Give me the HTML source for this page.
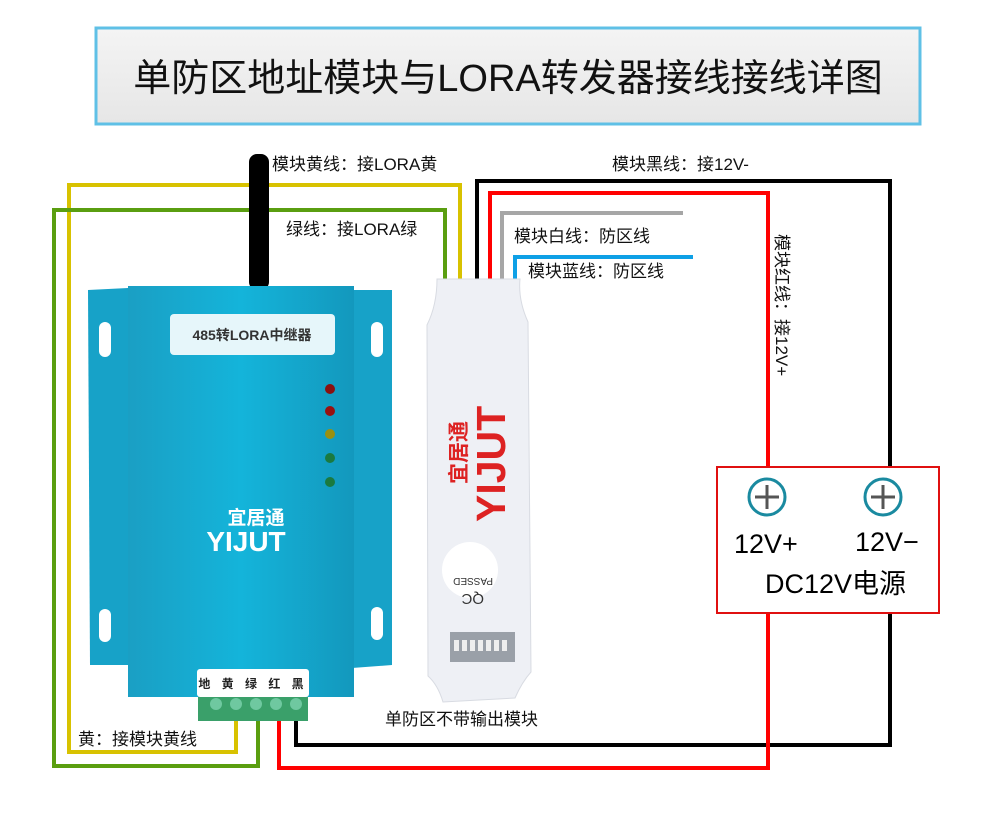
<!DOCTYPE html>
<html><head><meta charset="utf-8"><style>
body{margin:0;background:#fff;}
svg text{font-family:"Liberation Sans","Noto Sans CJK SC",sans-serif;}
</style></head><body>
<svg width="989" height="820" viewBox="0 0 989 820" xmlns="http://www.w3.org/2000/svg">
<defs>
<linearGradient id="tb" x1="0" y1="0" x2="0" y2="1"><stop offset="0" stop-color="#f4f4f4"/><stop offset="1" stop-color="#e6e6e6"/></linearGradient>
<linearGradient id="body" x1="0" y1="0" x2="1" y2="0"><stop offset="0" stop-color="#1a9fc4"/><stop offset="0.5" stop-color="#14b4da"/><stop offset="1" stop-color="#1398bd"/></linearGradient>
</defs>
<rect width="989" height="820" fill="#fff"/>
<rect x="96" y="28" width="824" height="96" fill="url(#tb)" stroke="#5fc0e6" stroke-width="3"/>
<text x="508" y="91" font-size="38" text-anchor="middle" fill="#111">单防区地址模块与LORA转发器接线接线详图</text>

<g fill="none" stroke-width="4">
<polyline points="69,290 69,185 460,185 460,285" stroke="#d8c200"/>
<polyline points="54,290 54,210 445,210 445,285" stroke="#5a9e10"/>
<polyline points="69,290 69,752 236,752 236,715" stroke="#d8c200"/>
<polyline points="54,290 54,766 258,766 258,718" stroke="#5a9e10"/>
<polyline points="477,285 477,181 890,181 890,745 296,745 296,718" stroke="#000"/>
<polyline points="490,285 490,193 768,193 768,468" stroke="#f00"/>
<polyline points="768,612 768,768 279,768 279,718" stroke="#f00"/>
<polyline points="502,285 502,213 683,213" stroke="#a6a6a6"/>
<polyline points="515,285 515,257 693,257" stroke="#0ea0e6"/>
</g>

<rect x="249" y="154" width="20" height="136" rx="8" fill="#000"/>
<path d="M88,290 L128,288 L128,665 L90,665 Z" fill="#17a2c8"/>
<path d="M352,290 L392,290 L392,665 L352,668 Z" fill="#17a2c8"/>
<rect x="128" y="286" width="226" height="411" fill="url(#body)"/>
<rect x="99" y="322" width="12" height="35" rx="6" fill="#fff"/>
<rect x="371" y="322" width="12" height="35" rx="6" fill="#fff"/>
<rect x="99" y="609" width="12" height="33" rx="6" fill="#fff"/>
<rect x="371" y="607" width="12" height="33" rx="6" fill="#fff"/>
<rect x="170" y="314" width="165" height="41" rx="4" fill="#e6f6fa"/>
<text x="252" y="340" font-size="14" font-weight="bold" text-anchor="middle" fill="#333">485转LORA中继器</text>
<circle cx="330" cy="389" r="5" fill="#8a1010"/>
<circle cx="330" cy="411" r="5" fill="#9a1010"/>
<circle cx="330" cy="434" r="5" fill="#9a9010"/>
<circle cx="330" cy="458" r="5" fill="#1a7a40"/>
<circle cx="330" cy="482" r="5" fill="#1a7a40"/>
<text x="256" y="524" font-size="19" font-weight="bold" text-anchor="middle" fill="#fff">宜居通</text>
<text x="246" y="551" font-size="28" font-weight="bold" text-anchor="middle" fill="#fff">YIJUT</text>
<rect x="197" y="669" width="112" height="28" rx="3" fill="#fff"/>
<text x="253" y="688" font-size="12" font-weight="bold" text-anchor="middle" fill="#222" letter-spacing="4">地 黄 绿 红 黑</text>
<rect x="198" y="697" width="110" height="24" fill="#3aa06a"/>
<g fill="#6fc8a0"><circle cx="216" cy="704" r="6"/><circle cx="236" cy="704" r="6"/><circle cx="256" cy="704" r="6"/><circle cx="276" cy="704" r="6"/><circle cx="296" cy="704" r="6"/></g>

<path d="M437,279 L520,279 Q518,300 528,322 L531,672 Q522,682 515,698 L443,702 Q438,685 428,676 L427,325 Q437,305 437,279 Z" fill="#eef0f5" stroke="#d8dbe2"/>
<text transform="translate(466,484) rotate(-90)" font-size="21" font-weight="bold" fill="#d22">宜居通</text>
<text transform="translate(505,522) rotate(-90)" font-size="41" font-weight="bold" fill="#d22">YIJUT</text>
<circle cx="470" cy="570" r="28" fill="#fff"/>
<text transform="translate(493,578) rotate(180)" font-size="10" fill="#333">PASSED</text>
<text transform="translate(484,594) rotate(180)" font-size="15" fill="#333">QC</text>
<rect x="450" y="632" width="65" height="30" fill="#9aa0a8"/>
<g fill="#eee"><rect x="454" y="640" width="5" height="11"/><rect x="462" y="640" width="5" height="11"/><rect x="470" y="640" width="5" height="11"/><rect x="478" y="640" width="5" height="11"/><rect x="486" y="640" width="5" height="11"/><rect x="494" y="640" width="5" height="11"/><rect x="502" y="640" width="5" height="11"/></g>

<rect x="717" y="467" width="222" height="146" fill="#fff" stroke="#e01010" stroke-width="2"/>
<g fill="none" stroke-width="3"><circle cx="767" cy="497" r="18" stroke="#1a8aa0"/><circle cx="883" cy="497" r="18" stroke="#1a8aa0"/></g>
<g stroke="#555" stroke-width="3"><line x1="755" y1="497" x2="779" y2="497"/><line x1="767" y1="485" x2="767" y2="509"/><line x1="871" y1="497" x2="895" y2="497"/><line x1="883" y1="485" x2="883" y2="509"/></g>
<text x="734" y="553" font-size="27" fill="#000">12V+</text>
<text x="855" y="551" font-size="27" fill="#000">12V−</text>
<text x="765" y="593" font-size="27" fill="#000">DC12V电源</text>

<g font-size="17" fill="#111">
<text x="272" y="170">模块黄线：接LORA黄</text>
<text x="286" y="235">绿线：接LORA绿</text>
<text x="612" y="170">模块黑线：接12V-</text>
<text x="514" y="242">模块白线：防区线</text>
<text x="528" y="277">模块蓝线：防区线</text>
<text x="78" y="745">黄：接模块黄线</text>
<text x="385" y="725">单防区不带输出模块</text>
<text transform="translate(776,234) rotate(90)">模块红线：接12V+</text>
</g>
</svg>
</body></html>
